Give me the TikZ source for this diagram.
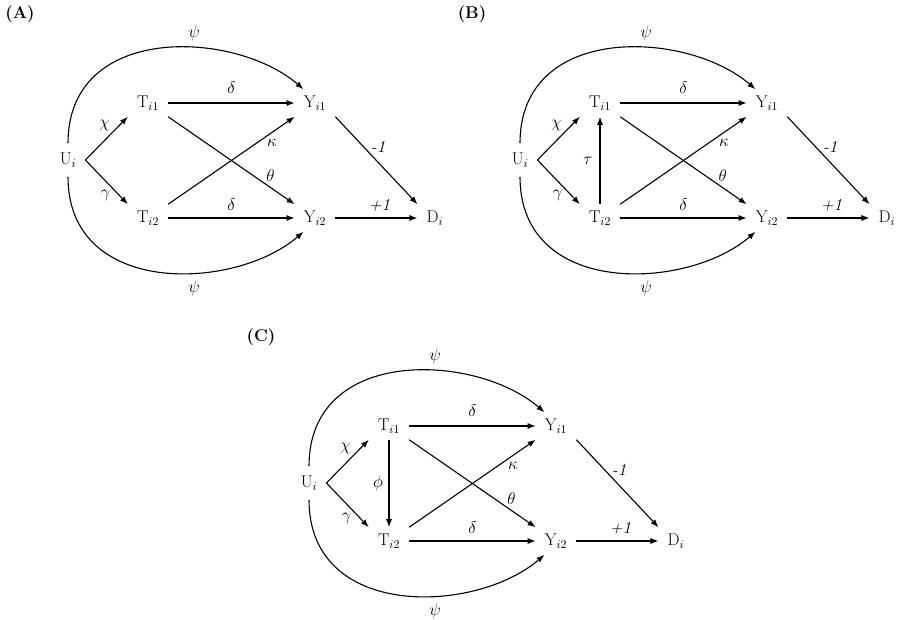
\RequirePackage{fix-cm}
\documentclass[tikz,border=0pt]{standalone}
\usetikzlibrary{arrows.meta}
\tikzset{
  var/.style={inner xsep=9pt, inner ysep=6.5pt, font=\fontsize{17}{20}\selectfont},
  lbl/.style={inner sep=0pt, font=\fontsize{17}{20}\selectfont},
  plabel/.style={inner sep=0pt, font=\fontsize{17}{20}\selectfont\bfseries},
  arr/.style={-{Latex[length=8pt,width=6pt]}, line width=1.1pt},
}
\newcommand\drawpanel[1]{%
  \node[plabel] (lab) at (20,14) {(#1)};
  \node[var] (U) at (68,160) {U$_i$};
  \node[var] (T1) at (148,103) {T$_{i1}$};
  \node[var] (T2) at (148,218) {T$_{i2}$};
  \node[var] (Y1) at (315,103) {Y$_{i1}$};
  \node[var] (Y2) at (315,218) {Y$_{i2}$};
  \node[var] (D) at (435,218) {D$_i$};
  \draw[arr] (U.east) -- node[lbl, shift={(-2,-13)}] {$\chi$} (T1.south west);
  \draw[arr] (U.east) -- node[lbl, shift={(-1,13)}] {$\gamma$} (T2.north west);
  \draw[arr] (T1) -- node[lbl, shift={(0,-15)}] {$\delta$} (Y1);
  \draw[arr] (T2) -- node[lbl, shift={(0,-13)}] {$\delta$} (Y2);
  \draw[arr] (T2.north east) -- node[lbl, pos=0.82, shift={(0,10)}] {$\kappa$} (Y1.south west);
  \draw[arr] (T1.south east) -- node[lbl, pos=0.81, shift={(0,-12)}] {$\theta$} (Y2.north west);
  \draw[arr] (Y1.south east) -- node[lbl, pos=0.52, shift={(0,-15)}] {\textit{-1}} (D.north west);
  \draw[arr] (Y2) -- node[lbl, shift={(3,-13)}] {\textit{+1}} (D);
  \draw[arr] ([yshift=3pt]U.north) .. controls +(0,-121) and +(-68,-59) .. node[lbl, pos=0.6, shift={(3,-15)}] {$\psi$} (Y1.130);
  \draw[arr] ([yshift=-3pt]U.south) .. controls +(0,121) and +(-68,59) .. node[lbl, pos=0.6, shift={(3,15)}] {$\psi$} (Y2.230);
}
\begin{document}
\begin{tikzpicture}[x=1pt,y=-1pt]
  \useasboundingbox (0,0) rectangle (900,620);
  \begin{scope}[name prefix=a-]
    \drawpanel{A}
  \end{scope}
  \begin{scope}[shift={(452,0)}, name prefix=b-]
    \drawpanel{B}
    \draw[arr] (T2) -- node[lbl, shift={(-12,0)}] {$\tau$} (T1);
  \end{scope}
  \begin{scope}[shift={(241,323)}, name prefix=c-]
    \drawpanel{C}
    \draw[arr] (T1) -- node[lbl, shift={(-11,0)}] {$\phi$} (T2);
  \end{scope}
\end{tikzpicture}
\end{document}
